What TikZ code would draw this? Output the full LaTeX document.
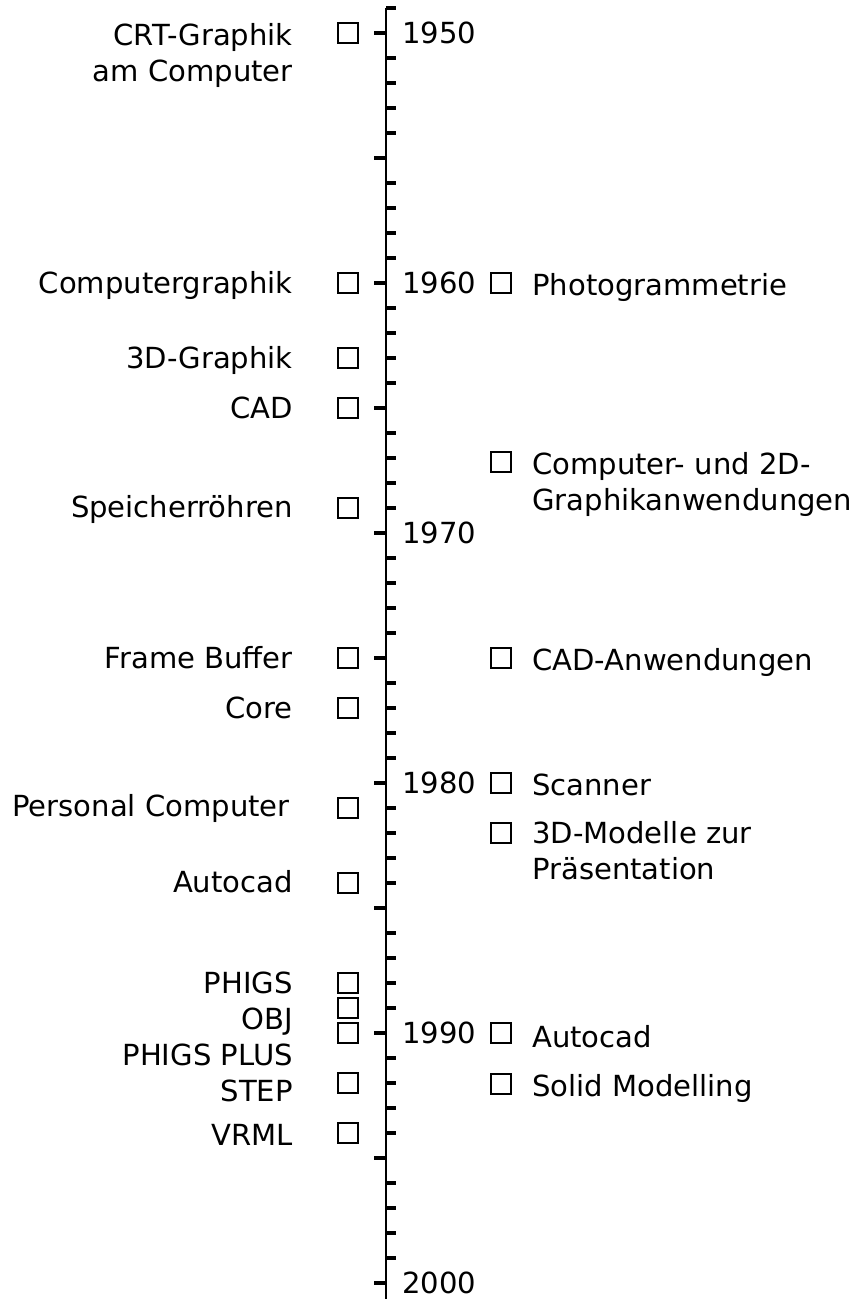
\documentclass[tikz,border=0pt]{standalone}
\usepackage{fontspec}
\setmainfont{DejaVu Sans}

\tikzset{
  axisline/.style={line width=1.6pt},
  tick/.style={line width=2.5pt},
  box/.style={draw, line width=1.4pt, minimum size=15.2pt, inner sep=0pt},
  txt/.style={inner sep=0pt, font=\fontsize{21.8}{27}\selectfont},
  lefttxt/.style={txt, anchor=base east, align=right},
  righttxt/.style={txt, anchor=base west, align=left},
  yeartxt/.style={txt, anchor=base west}
}

\begin{document}
\begin{tikzpicture}[x=0.75pt, y=-0.75pt]
  \useasboundingbox (0,0) rectangle (857,1299);

  % time axis with one tick per year
  \draw[axisline] (386,8) -- (386,1299);
  \foreach \yr in {1949,...,2000}{
    \pgfmathsetmacro{\ty}{33+(\yr-1950)*25}
    \pgfmathtruncatemacro{\m}{mod(\yr,5)}
    \ifnum\m=0
      \draw[tick] (374,\ty) -- (386,\ty);
    \else
      \draw[tick] (386,\ty) -- (396,\ty);
    \fi
  }
  \foreach \yr in {1950,1960,...,2000}
    \node[yeartxt] (y\yr) at (402,{43.6+(\yr-1950)*25}) {\yr};

  % left column (base anchor = last line)
  \node[box] (crt) at (348,33) {};
  \node[lefttxt] (crtl) at (293,81.5) {CRT-Graphik\\am Computer};
  \node[box] (cg) at (348,283) {};
  \node[lefttxt] (cgl) at (293,293.5) {Computergraphik};
  \node[box] (gr3d) at (348,358) {};
  \node[lefttxt] (gr3dl) at (293,368.5) {3D-Graphik};
  \node[box] (cad) at (348,408) {};
  \node[lefttxt] (cadl) at (293,418.5) {CAD};
  \node[box] (sr) at (348,508) {};
  \node[lefttxt] (srl) at (293,517) {Speicherröhren};
  \node[box] (fb) at (348,658) {};
  \node[lefttxt] (fbl) at (293,668.5) {Frame Buffer};
  \node[box] (core) at (348,708) {};
  \node[lefttxt] (corel) at (293,718.5) {Core};
  \node[box] (pc) at (348,808) {};
  \node[lefttxt] (pcl) at (290,816) {Personal Computer};
  \node[box] (acad) at (348,883) {};
  \node[lefttxt] (acadl) at (293,892) {Autocad};
  \node[box] (phigs) at (348,983) {};
  \node[box] (obj) at (348,1008) {};
  \node[box] (plus) at (348,1033) {};
  \node[box] (step) at (348,1083) {};
  \node[lefttxt] (stdl) at (293,1101) {PHIGS\\OBJ\\PHIGS PLUS\\STEP};
  \node[box] (vrml) at (348,1133) {};
  \node[lefttxt] (vrmll) at (293,1145) {VRML};

  % right column
  \node[box] (photo) at (501,283) {};
  \node[righttxt] (photol) at (532,295) {Photogrammetrie};
  \node[box] (app2d) at (501,462) {};
  \node[righttxt] (app2dl) at (532,510) {Computer- und 2D-\\Graphikanwendungen};
  \node[box] (cadapp) at (501,658) {};
  \node[righttxt] (cadappl) at (532,670) {CAD-Anwendungen};
  \node[box] (scan) at (501,783) {};
  \node[righttxt] (scanl) at (532,795) {Scanner};
  \node[box] (mod3d) at (501,833) {};
  \node[righttxt] (mod3dl) at (532,879) {3D-Modelle zur\\Präsentation};
  \node[box] (acad2) at (501,1033) {};
  \node[righttxt] (acad2l) at (532,1047) {Autocad};
  \node[box] (solid) at (501,1084) {};
  \node[righttxt] (solidl) at (532,1096) {Solid Modelling};
\end{tikzpicture}
\end{document}
